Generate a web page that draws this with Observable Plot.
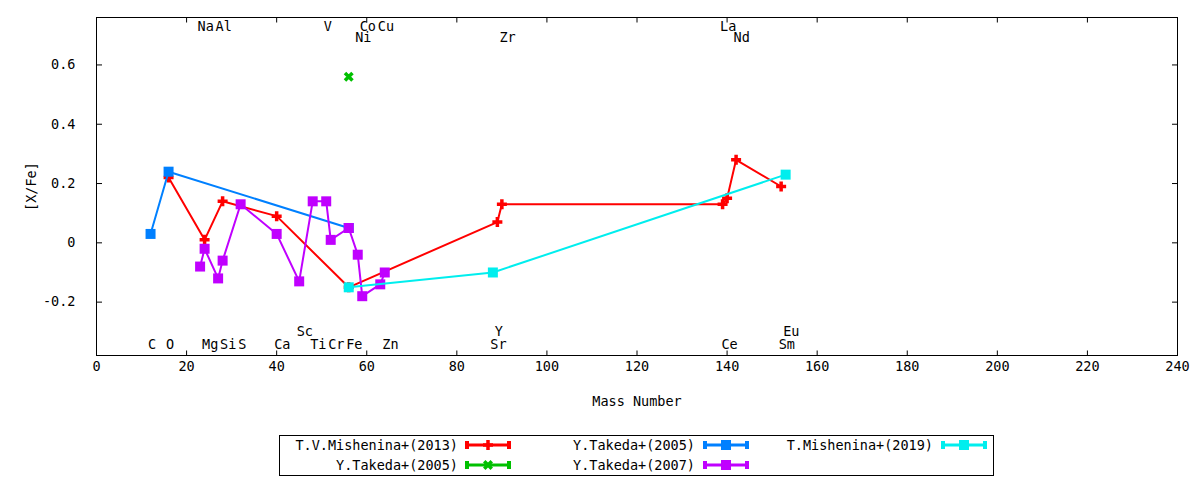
<!DOCTYPE html>
<html>
<head>
<meta charset="utf-8">
<script src="https://cdn.jsdelivr.net/npm/d3@7"></script>
<script src="https://cdn.jsdelivr.net/npm/@observablehq/plot@0.6"></script>
<style>
  body { margin: 0; background: #fff; font-family: "DejaVu Sans Mono", monospace; }
  #wrap { position: relative; width: 1200px; height: 480px; overflow: hidden; }
  #legend { position: absolute; left: 279px; top: 435px; width: 715px; height: 41px; box-sizing: border-box; border: 1px solid #000; }
  .lt { position: absolute; width: 300px; height: 16px; line-height: 16px; text-align: right; font-size: 13.5px; white-space: nowrap; color: #000; }
  .ls { position: absolute; }
</style>
</head>
<body>
<div id="wrap">
  <div id="chart"></div>
  <div id="legend"></div>
</div>
<script>
// ---------- data ----------
const xDomain = [0, 240];
const yDomain = [-0.38, 0.76];
const xTicks = [0, 20, 40, 60, 80, 100, 120, 140, 160, 180, 200, 220, 240];
const yTicks = [-0.2, 0, 0.2, 0.4, 0.6];

const seriesNames = ["T.V.Mishenina+(2013)", "Y.Takeda+(2005)", "Y.Takeda+(2005)", "Y.Takeda+(2007)", "T.Mishenina+(2019)"];
const seriesColors = ["#ff0000", "#00c000", "#0080ff", "#c000ff", "#00eeee"];
const seriesSymbols = ["plus", "times", "square", "square", "square"];

const mishenina13Mass = [16, 24, 28, 40, 56, 89, 90, 139, 140, 142, 152];
const mishenina13XFe  = [0.22, 0.01, 0.14, 0.09, -0.15, 0.07, 0.13, 0.13, 0.15, 0.28, 0.19];

const takeda05gMass = [56];
const takeda05gXFe  = [0.56];

const takeda05bMass = [12, 16, 56];
const takeda05bXFe  = [0.03, 0.24, 0.05];

const takeda07Mass = [23, 24, 27, 28, 32, 40, 45, 48, 51, 52, 56, 58, 59, 63, 64];
const takeda07XFe  = [-0.08, -0.02, -0.12, -0.06, 0.13, 0.03, -0.13, 0.14, 0.14, 0.01, 0.05, -0.04, -0.18, -0.14, -0.10];

const mishenina19Mass = [56, 88, 153];
const mishenina19XFe  = [-0.15, -0.10, 0.23];

// element annotations: name, x position, row
const elemNames = ["Na", "Al", "V", "Co", "Cu", "La", "Ni", "Zr", "Nd", "Sc", "Y", "Eu",
                   "C", "O", "Mg", "Si", "S", "Ca", "Ti", "Cr", "Fe", "Zn", "Sr", "Ce", "Sm"];
const elemX     = [23, 27, 51, 59, 63, 139, 58, 90, 142, 45, 89, 153,
                   12, 16, 24, 28, 32, 40, 48, 52, 56, 64, 88, 139.3, 152];
const elemRow   = ["t1", "t1", "t1", "t1", "t1", "t1", "t2", "t2", "t2", "b1", "b1", "b1",
                   "b2", "b2", "b2", "b2", "b2", "b2", "b2", "b2", "b2", "b2", "b2", "b2", "b2"];

// ---------- build ----------
const masses = [mishenina13Mass, takeda05gMass, takeda05bMass, takeda07Mass, mishenina19Mass];
const values = [mishenina13XFe, takeda05gXFe, takeda05bXFe, takeda07XFe, mishenina19XFe];
const series = masses.map((m, i) => m.map((x, j) => ({x, y: values[i][j]})));
const elems = elemNames.map((n, i) => ({name: n, x: elemX[i], row: elemRow[i]}));

const symbolDraw = {
  plus: {draw(ctx, size) { const h = Math.sqrt(size / Math.PI); ctx.moveTo(-h, 0); ctx.lineTo(h, 0); ctx.moveTo(0, -h); ctx.lineTo(0, h); }},
  times: {draw(ctx, size) { const h = Math.sqrt(size / Math.PI) * 0.75; ctx.moveTo(-h, -h); ctx.lineTo(h, h); ctx.moveTo(-h, h); ctx.lineTo(h, -h); }},
  square: {draw(ctx, size) { const h = Math.sqrt(size / Math.PI); ctx.rect(-h, -h, 2 * h, 2 * h); }}
};

const marks = [Plot.frame({stroke: "black", strokeWidth: 1})];
series.forEach((rows, i) => {
  const c = seriesColors[i], s = seriesSymbols[i];
  if (rows.length > 1) marks.push(Plot.line(rows, {x: "x", y: "y", stroke: c, strokeWidth: 2}));
  if (s === "square") {
    marks.push(Plot.dot(rows, {x: "x", y: "y", symbol: symbolDraw.square, r: 5, fill: c, stroke: "none"}));
  } else {
    marks.push(Plot.dot(rows, {x: "x", y: "y", symbol: symbolDraw[s], r: 5, fill: "none", stroke: c, strokeWidth: 3.5}));
  }
});

const rowOpts = {
  t1: {frameAnchor: "top", dy: 9.5},
  t2: {frameAnchor: "top", dy: 19.7},
  b1: {frameAnchor: "bottom", dy: -24.2},
  b2: {frameAnchor: "bottom", dy: -10.5}
};
for (const r of ["t1", "t2", "b1", "b2"]) {
  marks.push(Plot.text(elems.filter(d => d.row === r), {
    x: "x", text: "name", textAnchor: "start", lineAnchor: "middle", dx: -2.5,
    fill: "black", ...rowOpts[r]
  }));
}

marks.push(
  Plot.axisX(xTicks, {anchor: "bottom", tickSize: -4.5, fill: "none", stroke: "black"}),
  Plot.axisX(xTicks, {anchor: "top", tickSize: -4.5, fill: "none", stroke: "black"}),
  Plot.axisX(xTicks, {anchor: "bottom", tickSize: 0, tickPadding: 6, tickFormat: d => String(d), label: null, fill: "black"}),
  Plot.axisY(yTicks, {anchor: "left", tickSize: -6, fill: "none", stroke: "black"}),
  Plot.axisY(yTicks, {anchor: "right", tickSize: -6, fill: "none", stroke: "black"}),
  Plot.axisY(yTicks, {anchor: "left", tickSize: 0, tickPadding: 21, tickFormat: d => d === 0 ? "0" : d.toFixed(1), label: null, fill: "black"}),
  Plot.text(["[X/Fe]"], {text: d => d, frameAnchor: "left", dx: -65, rotate: -90, textAnchor: "middle", lineAnchor: "middle", fill: "black"}),
  Plot.text(["Mass Number"], {text: d => d, frameAnchor: "bottom", dy: 46, textAnchor: "middle", lineAnchor: "middle", fill: "black"})
);

const chart = Plot.plot({
  width: 1200,
  height: 430,
  marginLeft: 96,
  marginRight: 23,
  marginTop: 17,
  marginBottom: 75,
  x: {domain: xDomain, ticks: xTicks},
  y: {domain: yDomain, ticks: yTicks},
  style: {fontFamily: "DejaVu Sans Mono", fontSize: "13.5px", color: "black", background: "white", overflow: "visible"},
  marks
});
document.getElementById("chart").appendChild(chart);

// ---------- legend ----------
const legend = d3.select("#legend");
const textRight = [178, 415, 653];
const sampleLeft = [185, 423, 661];
const rowCenter = [8.5, 28.7];
// column-major fill with two rows
seriesNames.forEach((name, i) => {
  const col = Math.floor(i / 2), row = i % 2;
  legend.append("div").attr("class", "lt")
    .style("left", (textRight[col] - 300) + "px")
    .style("top", (rowCenter[row] - 8) + "px")
    .text(name);
  const svg = legend.append("svg").attr("class", "ls")
    .attr("width", 46).attr("height", 14)
    .style("left", sampleLeft[col] + "px")
    .style("top", (rowCenter[row] - 7) + "px");
  const c = seriesColors[i];
  svg.append("line").attr("x1", 2).attr("x2", 44).attr("y1", 7).attr("y2", 7).attr("stroke", c).attr("stroke-width", 3);
  svg.append("line").attr("x1", 2).attr("x2", 2).attr("y1", 3).attr("y2", 11).attr("stroke", c).attr("stroke-width", 4);
  svg.append("line").attr("x1", 44).attr("x2", 44).attr("y1", 3).attr("y2", 11).attr("stroke", c).attr("stroke-width", 4);
  const p = d3.path();
  symbolDraw[seriesSymbols[i]].draw(p, Math.PI * 25);
  const path = svg.append("path").attr("d", p.toString()).attr("transform", "translate(23,7)");
  if (seriesSymbols[i] === "square") path.attr("fill", c);
  else path.attr("fill", "none").attr("stroke", c).attr("stroke-width", 3.5);
});
</script>
</body>
</html>
